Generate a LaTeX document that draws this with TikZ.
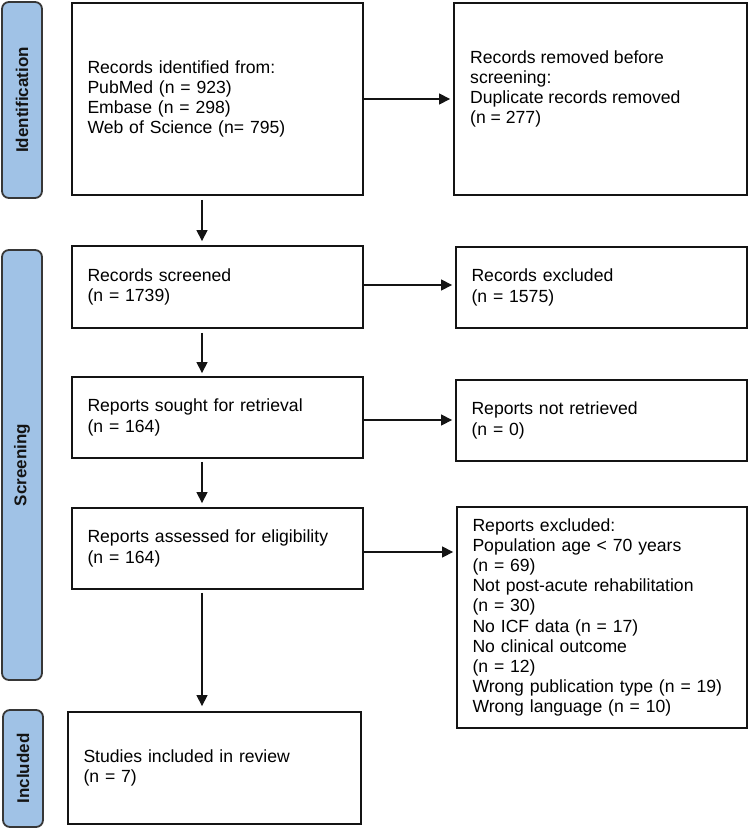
\documentclass[tikz,border=0pt]{standalone}
\usepackage{fontspec}
\setmainfont{Liberation Sans}
\usetikzlibrary{arrows.meta}
\definecolor{barblue}{RGB}{160,194,230}
\definecolor{edge}{RGB}{20,20,20}
\begin{document}
\begin{tikzpicture}[x=1pt,y=-1pt,
  box/.style={draw=edge, line width=1.8pt, fill=white, inner xsep=15.5pt, inner ysep=0pt,
    align=left, font=\fontsize{17.6}{20.2}\selectfont, anchor=center},
  txt/.style={inner sep=0pt, align=left, font=\fontsize{17.6}{20.2}\selectfont},
  bar/.style={draw=edge!85, line width=1.8pt, fill=barblue, rounded corners=7pt, rotate=90,
    inner sep=0pt, font=\fontsize{17}{20}\selectfont\bfseries, text=edge},
  arr/.style={-{Triangle[length=11pt,width=11pt]}, line width=1.2pt, draw=edge,
    shorten >=3pt}]
\useasboundingbox (0,0) rectangle (750,829);

% phase bars
\node[bar, minimum width=196, minimum height=40] (idbar) at (22,100) {Identification};
\node[bar, minimum width=430, minimum height=40] (scbar) at (22,465) {Screening};
\node[bar, minimum width=117, minimum height=40] (inbar) at (23,768.5) {Included};

% boxes
\node[box, minimum width=291, minimum height=192, text width=260] (b1) at (217.5,99)
  {Records identified from:\\PubMed (n = 923)\\Embase (n = 298)\\Web of Science (n= 795)};
\node[box, minimum width=293, minimum height=192] (b2) at (600.5,99) {};
\node[txt, anchor=west] (b2t) at (470,89)
  {Records removed before\\screening:\\Duplicate records removed\\(n = 277)};

\node[box, minimum width=291, minimum height=82, text width=260] (b3) at (217.5,287)
  {Records screened\\(n = 1739)};
\node[box, minimum width=291, minimum height=81, text width=260] (b4) at (601.5,287.5)
  {Records excluded\\(n = 1575)};

\node[box, minimum width=291, minimum height=81, text width=260] (b5) at (217.5,417.5)
  {Reports sought for retrieval\\(n = 164)};
\node[box, minimum width=291, minimum height=81, text width=260] (b6) at (601.5,420.5)
  {Reports not retrieved\\(n = 0)};

\node[box, minimum width=291, minimum height=81, text width=260] (b7) at (217.5,548.5)
  {Reports assessed for eligibility\\(n = 164)};
\node[box, minimum width=290, minimum height=221, text width=259] (b8) at (602,617.5)
  {Reports excluded:\\Population age < 70 years\\(n = 69)\\Not post-acute rehabilitation\\(n = 30)\\No ICF data (n = 17)\\No clinical outcome\\(n = 12)\\Wrong publication type (n = 19)\\Wrong language (n = 10)};

\node[box, minimum width=293, minimum height=112, text width=262] (b9) at (214.5,768)
  {Studies included in review\\(n = 7)};

% connectors
\coordinate (spine) at (202,0);
\draw[arr, shorten <=4pt, shorten >=4pt] (b1.south -| spine) -- (b3.north -| spine);
\draw[arr, shorten <=4pt, shorten >=3pt] (b3.south -| spine) -- (b5.north -| spine);
\draw[arr, shorten <=3pt, shorten >=4pt] (b5.south -| spine) -- (b7.north -| spine);
\draw[arr, shorten <=3pt, shorten >=5pt] (b7.south -| spine) -- (b9.north -| spine);

\draw[arr] (b1.east) -- (b1.east -| b2.west);
\draw[arr] ([yshift=2pt]b3.east) -- ([yshift=2pt]b3.east -| b4.west);
\draw[arr] ([yshift=-2.5pt]b5.east) -- ([yshift=-2.5pt]b5.east -| b6.west);
\draw[arr] ([yshift=-3.5pt]b7.east) -- ([yshift=-3.5pt]b7.east -| b8.west);
\end{tikzpicture}
\end{document}
